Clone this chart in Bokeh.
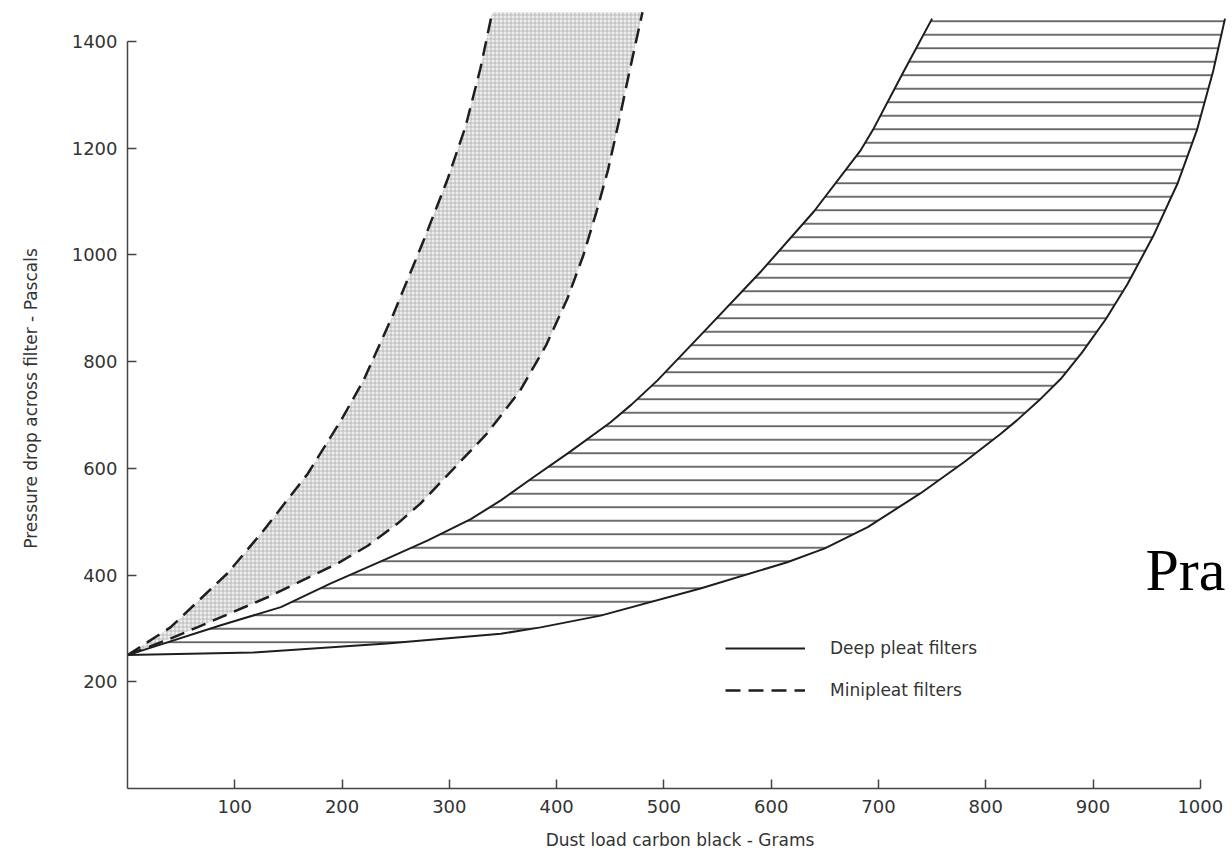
from bokeh.plotting import figure
from bokeh.models import Range1d, FixedTicker, Legend, LegendItem, Label
from bokeh.embed import file_html
from bokeh.resources import INLINE

# Deep pleat filters band (solid boundaries)
deep_upper_x = [0, 87, 143, 189, 242, 280, 320, 348, 378, 413, 450, 470, 494, 540, 590, 640, 683, 695, 723, 750]
deep_upper_y = [250, 306, 340, 384, 431, 465, 505, 540, 583, 632, 686, 720, 765, 862, 968, 1082, 1195, 1235, 1342, 1443]
deep_lower_x = [0, 117, 242, 348, 385, 441, 534, 615, 650, 690, 739, 780, 814, 829, 850, 870, 890, 912, 932, 956, 979, 997, 1012, 1023]
deep_lower_y = [250, 255, 272, 290, 302, 324, 375, 424, 450, 490, 553, 612, 665, 690, 728, 768, 818, 880, 945, 1035, 1135, 1235, 1345, 1443]

# Minipleat filters band (dashed boundaries)
mini_upper_x = [0, 40, 93, 127, 168, 199, 220, 248, 276, 298, 315, 329, 340]
mini_upper_y = [250, 302, 403, 484, 590, 690, 765, 890, 1027, 1140, 1240, 1350, 1455]
mini_lower_x = [0, 40, 65, 130, 196, 224, 252, 273, 335, 366, 390, 410, 425, 437, 448, 458, 468, 480]
mini_lower_y = [250, 281, 302, 358, 422, 455, 497, 534, 665, 746, 830, 918, 1000, 1080, 1160, 1250, 1345, 1455]

x_ticks = [100, 200, 300, 400, 500, 600, 700, 800, 900, 1000]
y_ticks = [200, 400, 600, 800, 1000, 1200, 1400]

FONT = "DejaVu Sans"
TXT = "#333333"
INK = "#1e1e1e"

p = figure(width=1232, height=860, output_backend="svg", toolbar_location=None,
           x_range=Range1d(0, 1030), y_range=Range1d(0, 1462),
           min_border_left=127, min_border_right=0, min_border_top=8, min_border_bottom=72)
p.outline_line_color = None
p.grid.visible = False
p.background_fill_color = "white"
p.border_fill_color = "white"

# Minipleat stippled band
p.patch(mini_upper_x + mini_lower_x[::-1], mini_upper_y + mini_lower_y[::-1],
        fill_color="#eeeeee", line_color=None,
        hatch_pattern="cross", hatch_scale=4, hatch_weight=0.7, hatch_color="#a8a8a8")

# Deep pleat hatched band
p.patch(deep_upper_x + deep_lower_x[::-1], deep_upper_y + deep_lower_y[::-1],
        fill_color="white", line_color=None,
        hatch_pattern="horizontal_line", hatch_scale=13.5, hatch_weight=1.3, hatch_color="#222222")

deep_u = p.line(deep_upper_x, deep_upper_y, line_color=INK, line_width=2)
deep_l = p.line(deep_lower_x, deep_lower_y, line_color=INK, line_width=2)
mini_u = p.line(mini_upper_x, mini_upper_y, line_color=INK, line_width=2.5, line_dash="15 8")
mini_l = p.line(mini_lower_x, mini_lower_y, line_color=INK, line_width=2.5, line_dash="15 8")

# Axes
p.xaxis.ticker = FixedTicker(ticks=x_ticks)
p.yaxis.ticker = FixedTicker(ticks=y_ticks)
p.xaxis.bounds = (0, 1000)
p.yaxis.bounds = (0, 1400)
for ax in (p.xaxis[0], p.yaxis[0]):
    ax.axis_line_color = "#444444"
    ax.axis_line_width = 1.5
    ax.major_tick_line_color = "#444444"
    ax.major_tick_line_width = 1.5
    ax.major_tick_in = 9
    ax.major_tick_out = 0
    ax.minor_tick_line_color = None
    ax.major_label_text_font = FONT
    ax.major_label_text_font_size = "18px"
    ax.major_label_text_color = TXT
    ax.axis_label_text_font = FONT
    ax.axis_label_text_font_size = "17px"
    ax.axis_label_text_font_style = "normal"
    ax.axis_label_text_color = TXT
p.xaxis.axis_label = "Dust load carbon black - Grams"
p.yaxis.axis_label = "Pressure drop across filter - Pascals"
p.xaxis.major_label_standoff = 11
p.yaxis.major_label_standoff = 10
p.xaxis.axis_label_standoff = 14
p.yaxis.axis_label_standoff = 28

legend = Legend(items=[LegendItem(label="Deep pleat filters", renderers=[deep_u]),
                       LegendItem(label="Minipleat filters", renderers=[mini_u])],
                location=(598, 88), glyph_width=80, glyph_height=20, label_height=20,
                spacing=22, padding=0, margin=0, label_standoff=25,
                border_line_color=None, background_fill_alpha=0,
                label_text_font=FONT, label_text_font_size="17px", label_text_color=TXT)
p.add_layout(legend)

p.add_layout(Label(x=1018, y=186, x_units="screen", y_units="screen", text="Pra",
                   text_font="Liberation Serif", text_font_size="60px", text_color="black"))

open("out.html", "w").write(file_html(p, INLINE))
